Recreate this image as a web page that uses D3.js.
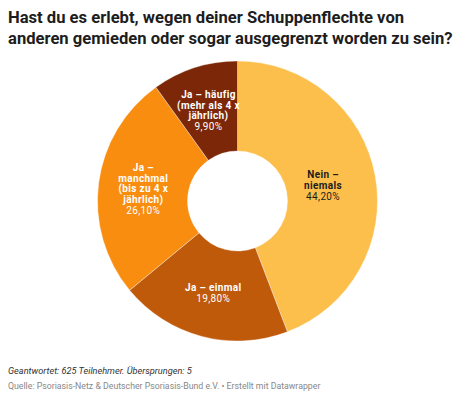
<!DOCTYPE html>
<html>
<head>
<meta charset="utf-8">
<script src="https://cdn.jsdelivr.net/npm/d3@7"></script>
<style>
  body { margin: 0; background: #fff; }
  svg { display: block; font-family: Roboto, sans-serif; }
</style>
</head>
<body>
<svg id="chart" width="475" height="398"></svg>
<script>
// data
const categories = [
  "Nein – niemals",
  "Ja – einmal",
  "Ja – manchmal (bis zu 4 x jährlich)",
  "Ja – häufig (mehr als 4 x jährlich)"
];
// how each label is wrapped inside its slice
const labelLines = [
  ["Nein –", "niemals"],
  ["Ja – einmal"],
  ["Ja –", "manchmal", "(bis zu 4 x", "jährlich)"],
  ["Ja – häufig", "(mehr als 4 x", "jährlich)"]
];
const values = [44.2, 19.8, 26.1, 9.9];
const colors = ["#fcbf4b", "#c05a0b", "#f88d10", "#7c2707"];
const textColors = ["#1d1d1d", "#fff", "#fff", "#fff"];

const titleLines = [
  "Hast du es erlebt, wegen deiner Schuppenflechte von",
  "anderen gemieden oder sogar ausgegrenzt worden zu sein?"
];
const notes = "Geantwortet: 625 Teilnehmer. Übersprungen: 5";
const source = "Quelle: Psoriasis-Netz & Deutscher Psoriasis-Bund e.V. • Erstellt mit Datawrapper";

const svg = d3.select("#chart");

// title
svg.append("g")
  .selectAll("text")
  .data(titleLines)
  .join("text")
  .attr("x", 8)
  .attr("y", (d, i) => 23 + i * 21)
  .attr("font-size", "16.6px")
  .attr("font-weight", 700)
  .attr("fill", "#1d1d1d")
  .text(d => d);

// donut
const cx = 237.5, cy = 201;
const outerR = 140, innerR = 50;

const pie = d3.pie().sort(null).value(d => d);
const arc = d3.arc().innerRadius(innerR).outerRadius(outerR);
const arcs = pie(values);

const g = svg.append("g").attr("transform", `translate(${cx},${cy})`);

g.selectAll("path")
  .data(arcs)
  .join("path")
  .attr("d", arc)
  .attr("fill", (d, i) => colors[i])
  .attr("stroke", "#fff")
  .attr("stroke-opacity", 0.6)
  .attr("stroke-width", 0.6);

const fmt = v => d3.format(".2f")(v).replace(".", ",") + "%";

// big slice labels sit a bit further in, like the original
const labelR = d => (d.endAngle - d.startAngle > 2.5 ? 87 : 95);

const labels = g.selectAll("g.lbl")
  .data(arcs)
  .join("g")
  .attr("class", "lbl")
  .attr("transform", d => {
    const a = (d.startAngle + d.endAngle) / 2;
    const r = labelR(d);
    return `translate(${Math.sin(a) * r},${-Math.cos(a) * r})`;
  });

labels.each(function(d, i) {
  const lines = labelLines[i].map(t => ({ t, bold: true }))
    .concat([{ t: fmt(values[i]), bold: false }]);
  const lh = 10.8;
  const y0 = -((lines.length - 1) * lh) / 2;
  d3.select(this).selectAll("text")
    .data(lines)
    .join("text")
    .attr("text-anchor", "middle")
    .attr("y", (l, j) => y0 + j * lh + 3.5)
    .attr("font-size", "10px")
    .attr("letter-spacing", "0.35px")
    .attr("font-weight", l => l.bold ? 700 : 400)
    .attr("fill", textColors[i])
    .text(l => l.t);
});

// footer
svg.append("text")
  .attr("x", 8)
  .attr("y", 374)
  .attr("font-size", "9.2px")
  .attr("font-style", "italic")
  .attr("fill", "#333")
  .text(notes);

svg.append("text")
  .attr("x", 8)
  .attr("y", 389)
  .attr("font-size", "8.75px")
  .attr("fill", "#888")
  .text(source);
</script>
</body>
</html>
